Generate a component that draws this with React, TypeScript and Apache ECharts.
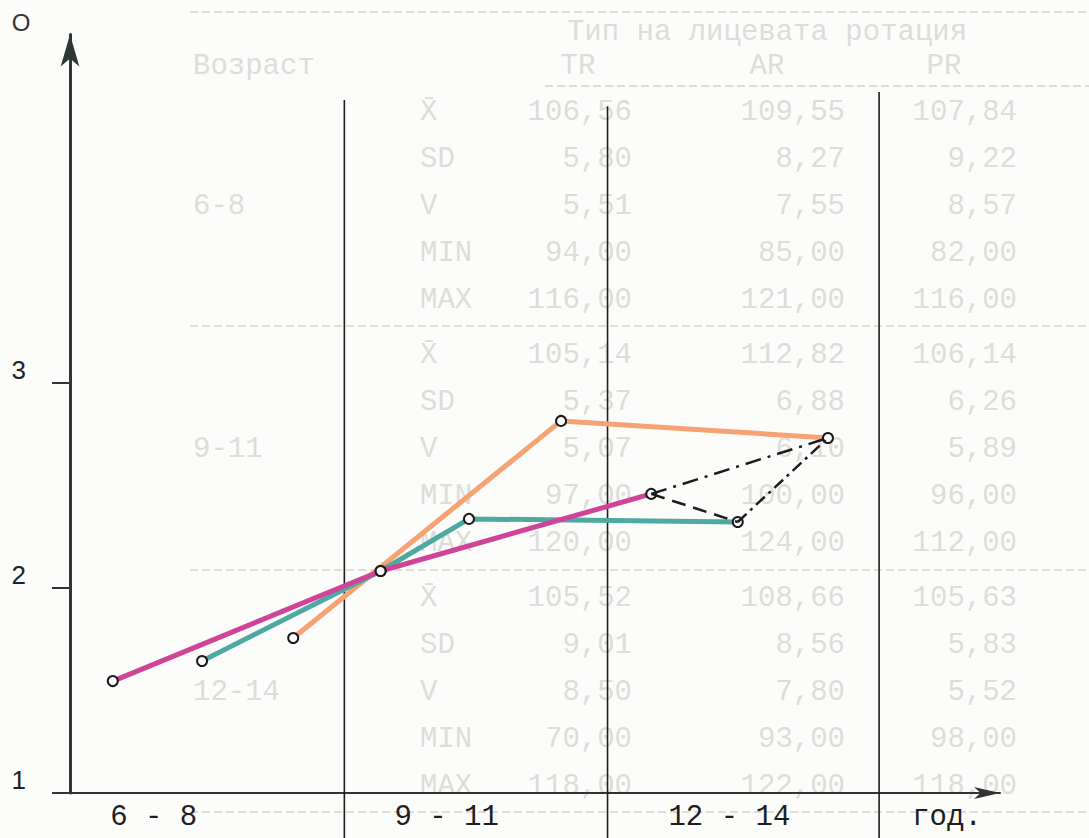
import React, { useEffect, useRef } from "react";
import * as echarts from "echarts";

// ---- chart data (x in axis units, y in score units) ----
const yTickValues = [1, 2, 3];
const ageLabels = ["6 - 8", "9 - 11", "12 - 14", "год."];
const ageLabelPos = [0.9, 4.05, 7.09, 9.43];
const dividerX = [2.95, 5.78, 8.7];
const dividerTop = [4.38, 4.35, 4.42];

const magentaLine = [[0.46, 1.546], [3.34, 2.083], [6.25, 2.459]];
const tealLine = [[1.42, 1.644], [3.34, 2.083], [4.29, 2.337], [7.18, 2.322]];
const orangeLine = [[2.4, 1.756], [5.28, 2.815], [8.15, 2.732]];
const dashUpper = [[6.25, 2.459], [8.15, 2.732]];
const dashLower = [[6.25, 2.459], [7.18, 2.322]];
const dashRight = [[7.18, 2.322], [8.15, 2.732]];

// ---- faint background table (scanned underneath) ----
const tableTitle = "Тип на лицевата ротация";
const tableAgeHeader = "Возраст";
const tableCols = ["TR", "AR", "PR"];
const tableGroups = ["6-8", "9-11", "12-14"];
const tableStats = ["X\u0304", "SD", "V", "MIN", "MAX"];
const tableTR = [
  ["106,56", "5,80", "5,51", "94,00", "116,00"],
  ["105,14", "5,37", "5,07", "97,00", "120,00"],
  ["105,52", "9,01", "8,50", "70,00", "118,00"],
];
const tableAR = [
  ["109,55", "8,27", "7,55", "85,00", "121,00"],
  ["112,82", "6,88", "6,10", "100,00", "124,00"],
  ["108,66", "8,56", "7,80", "93,00", "122,00"],
];
const tablePR = [
  ["107,84", "9,22", "8,57", "82,00", "116,00"],
  ["106,14", "6,26", "5,89", "96,00", "112,00"],
  ["105,63", "5,83", "5,52", "98,00", "118,00"],
];

const FAINT = "#dcdcd9";
const MONO = '"Liberation Mono", "DejaVu Sans Mono", monospace';

function buildTableGraphics() {
  const els: any[] = [];
  const txt = (text: string, x: number, y: number, align: string) => ({
    type: "text",
    x,
    y,
    z: 0,
    silent: true,
    style: { text, align, verticalAlign: "middle", font: `29px ${MONO}`, fill: FAINT },
  });
  els.push(txt(tableTitle, 767, 32, "center"));
  els.push(txt(tableAgeHeader, 193, 66, "left"));
  const colCenters = [578, 767, 944];
  tableCols.forEach((c, i) => els.push(txt(c, colCenters[i], 66, "center")));
  const groupStart = [112, 355, 598];
  const colRight = [632, 845, 1017];
  const cols = [tableTR, tableAR, tablePR];
  tableGroups.forEach((g, gi) => {
    els.push(txt(g, 193, groupStart[gi] + 2 * 47, "left"));
    tableStats.forEach((s, si) => {
      const y = groupStart[gi] + si * 47;
      els.push(txt(s, 420, y, "left"));
      cols.forEach((col, ci) => els.push(txt(col[gi][si], colRight[ci], y, "right")));
    });
  });
  const rules = [
    [190, 12],
    [545, 86],
    [190, 326],
    [190, 570],
    [190, 812],
  ];
  rules.forEach(([x1, y]) =>
    els.push({
      type: "line",
      z: 0,
      silent: true,
      shape: { x1, y1: y, x2: 1089, y2: y },
      style: { stroke: "#dcdcd9", lineWidth: 2, lineDash: [8, 4] },
    })
  );
  els.push({
    type: "text",
    x: 21,
    y: 22,
    z: 5,
    silent: true,
    style: { text: "O", align: "center", verticalAlign: "middle", font: '24px "Liberation Sans", sans-serif', fill: "#333" },
  });
  return els;
}

const coloredLine = (data: number[][], color: string, z: number) => ({
  type: "line",
  data,
  z,
  symbol: "emptyCircle",
  symbolSize: 10,
  showSymbol: true,
  itemStyle: { color: "#1a1a1a", borderWidth: 2 },
  lineStyle: { color, width: 5 },
  emphasis: { disabled: true },
  silent: true,
});

const dashLine = (data: number[][], dash: number[]) => ({
  type: "line",
  data,
  z: 4,
  symbol: "none",
  lineStyle: { color: "#1c1c1c", width: 2.5, type: dash },
  emphasis: { disabled: true },
  silent: true,
});

export default function App() {
  const ref = useRef<HTMLDivElement>(null);
  useEffect(() => {
    const chart = echarts.init(ref.current!, null, { renderer: "svg" });
    chart.setOption({
      animation: false,
      backgroundColor: "#fcfcfa",
      grid: { left: 70, right: 89, top: 34.5, bottom: 45 },
      xAxis: {
        type: "value",
        min: 0,
        max: 10,
        splitLine: { show: false },
        axisTick: { show: false },
        axisLine: {
          show: true,
          symbol: ["none", "arrow"],
          symbolSize: [9, 26],
          lineStyle: { color: "#333", width: 2 },
        },
        axisLabel: {
          customValues: ageLabelPos,
          formatter: (v: number) => {
            let best = 0;
            ageLabelPos.forEach((p, i) => {
              if (Math.abs(p - v) < Math.abs(ageLabelPos[best] - v)) best = i;
            });
            return ageLabels[best];
          },
          margin: 10,
          fontFamily: MONO,
          fontSize: 29,
          color: "#1e1e1e",
        },
      },
      yAxis: {
        type: "value",
        min: 1,
        max: 4.7,
        splitLine: { show: false },
        axisLine: {
          show: true,
          symbol: ["none", "arrow"],
          symbolSize: [14, 32],
          lineStyle: { color: "#2c3833", width: 3 },
        },
        axisTick: {
          show: true,
          customValues: yTickValues,
          length: 18,
          lineStyle: { color: "#333", width: 2 },
        },
        axisLabel: {
          customValues: yTickValues,
          margin: 44,
          fontFamily: '"Liberation Sans", sans-serif',
          fontSize: 26,
          color: "#222",
          verticalAlign: "bottom",
        },
      },
      graphic: buildTableGraphics(),
      series: [
        {
          type: "custom",
          data: dividerX.map((x, i) => [x, dividerTop[i]]),
          clip: false,
          silent: true,
          z: 1,
          renderItem: (_params: any, api: any) => {
            const top = api.coord([api.value(0), api.value(1)]);
            return {
              type: "line",
              shape: { x1: top[0], y1: top[1], x2: top[0], y2: api.getHeight() },
              style: { stroke: "#1e1e1e", lineWidth: 1.6 },
            };
          },
        },
        coloredLine(orangeLine, "#f6a272", 2),
        coloredLine(tealLine, "#4ea9a1", 3),
        coloredLine(magentaLine, "#cf4399", 3),
        dashLine(dashUpper, [16, 7, 3, 7]),
        dashLine(dashLower, [14, 8]),
        dashLine(dashRight, [12, 5, 3, 5]),
      ],
    });
    return () => chart.dispose();
  }, []);
  return (
    <div
      ref={ref}
      style={{ position: "absolute", left: 0, top: 0, width: 1089, height: 838, background: "#fcfcfa" }}
    />
  );
}
